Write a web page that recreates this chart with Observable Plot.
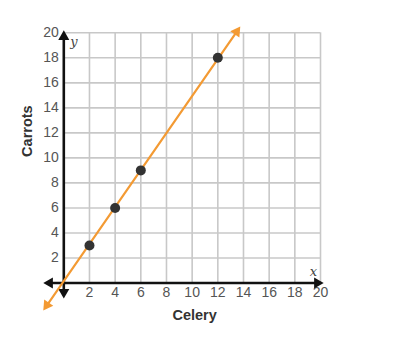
<!DOCTYPE html>
<html>
<head>
<meta charset="utf-8">
<script src="https://cdn.jsdelivr.net/npm/d3@7"></script>
<script src="https://cdn.jsdelivr.net/npm/@observablehq/plot@0.6"></script>
<style>
  html, body { margin: 0; padding: 0; background: #fff; }
  #chart svg { display: block; font-family: "Liberation Sans", Arial, sans-serif; }
</style>
</head>
<body>
<div id="chart"></div>
<script>
// Data
const celery = [2, 4, 6, 12];
const carrots = [3, 6, 9, 18];
const ticks = [2, 4, 6, 8, 10, 12, 14, 16, 18, 20];
const lineStart = { x: -1.6, y: -2.2 };
const lineEnd = { x: 13.75, y: 20.5 };
const xAxisExtent = [-1.6, 20.25];
const yAxisExtent = [-1.25, 20.2];
const xLabel = "Celery";
const yLabel = "Carrots";

const W = 393, H = 350;
const mL = 63.3, mR = 73, mT = 32.3, mB = 67.5;
const pxX = (W - mL - mR) / 20, pxY = (H - mT - mB) / 20;
const tipBack = 6.4; // px from centroid to tip of triangle head

const axisHeads = [
  { x: xAxisExtent[1] - tipBack / pxX, y: 0, r: 90 },
  { x: xAxisExtent[0] + tipBack / pxX, y: 0, r: 270 },
  { x: 0, y: yAxisExtent[1] - tipBack / pxY, r: 0 },
  { x: 0, y: yAxisExtent[0] + tipBack / pxY, r: 180 }
];
const dxp = (lineEnd.x - lineStart.x) * pxX, dyp = (lineEnd.y - lineStart.y) * pxY;
const lenp = Math.hypot(dxp, dyp);
const ang = Math.atan2(dxp, dyp) * 180 / Math.PI;
const ux = dxp / lenp, uy = dyp / lenp;
const lineHeads = [
  { x: lineEnd.x - ux * tipBack / pxX, y: lineEnd.y - uy * tipBack / pxY, r: ang },
  { x: lineStart.x + ux * tipBack / pxX, y: lineStart.y + uy * tipBack / pxY, r: ang + 180 }
];
const lineData = [lineHeads[1], lineHeads[0]];
const points = celery.map((c, i) => ({ x: c, y: carrots[i] }));

const orange = "#F39A33";
const chart = Plot.plot({
  width: W, height: H,
  marginLeft: mL, marginRight: mR, marginTop: mT, marginBottom: mB,
  x: { domain: [0, 20] },
  y: { domain: [0, 20] },
  style: { fontFamily: "Liberation Sans, Arial, sans-serif", background: "#fff", overflow: "visible" },
  marks: [
    Plot.ruleX(ticks, { x: d => d, y1: 0, y2: 20, stroke: "#c8c8c8", strokeWidth: 1.6, strokeOpacity: 1 }),
    Plot.ruleY(ticks, { y: d => d, x1: 0, x2: 20, stroke: "#c8c8c8", strokeWidth: 1.6, strokeOpacity: 1 }),
    Plot.axisX({ ticks, tickSize: 0, tickPadding: 4, fontSize: 14, color: "#555", label: null }),
    Plot.axisY({ ticks, tickSize: 0, tickPadding: 5, fontSize: 14, color: "#555", label: null }),
    Plot.text([xLabel], { frameAnchor: "bottom", dx: 2.5, dy: 32.5, lineAnchor: "middle", fontSize: 14.5, fontWeight: "bold", fill: "#333" }),
    Plot.text([yLabel], { frameAnchor: "left", dx: -36, dy: -1, rotate: -90, lineAnchor: "middle", fontSize: 14.5, fontWeight: "bold", fill: "#333" }),
    Plot.ruleY([0], { x1: axisHeads[1].x, x2: axisHeads[0].x, stroke: "#111", strokeWidth: 2.6 }),
    Plot.ruleX([0], { y1: axisHeads[3].y, y2: axisHeads[2].y, stroke: "#111", strokeWidth: 2.6 }),
    Plot.dot(axisHeads, { x: "x", y: "y", rotate: "r", symbol: "triangle", r: 4.1, fill: "#111", stroke: "none" }),
    Plot.line(lineData, { x: "x", y: "y", stroke: orange, strokeWidth: 2.2 }),
    Plot.dot(lineHeads, { x: "x", y: "y", rotate: "r", symbol: "triangle", r: 4.1, fill: orange, stroke: "none" }),
    Plot.dot(points, { x: "x", y: "y", r: 5, fill: "#333", stroke: "none" }),
    Plot.text(["y"], { x: 0, y: 20, dx: 10, dy: 9, fontFamily: "DejaVu Serif, serif", fontStyle: "italic", fontSize: 13, fill: "#444" }),
    Plot.text(["x"], { x: 20, y: 0, dx: -7, dy: -11, fontFamily: "DejaVu Serif, serif", fontStyle: "italic", fontSize: 13, fill: "#444" })
  ]
});
document.getElementById("chart").appendChild(chart);
</script>
</body>
</html>
